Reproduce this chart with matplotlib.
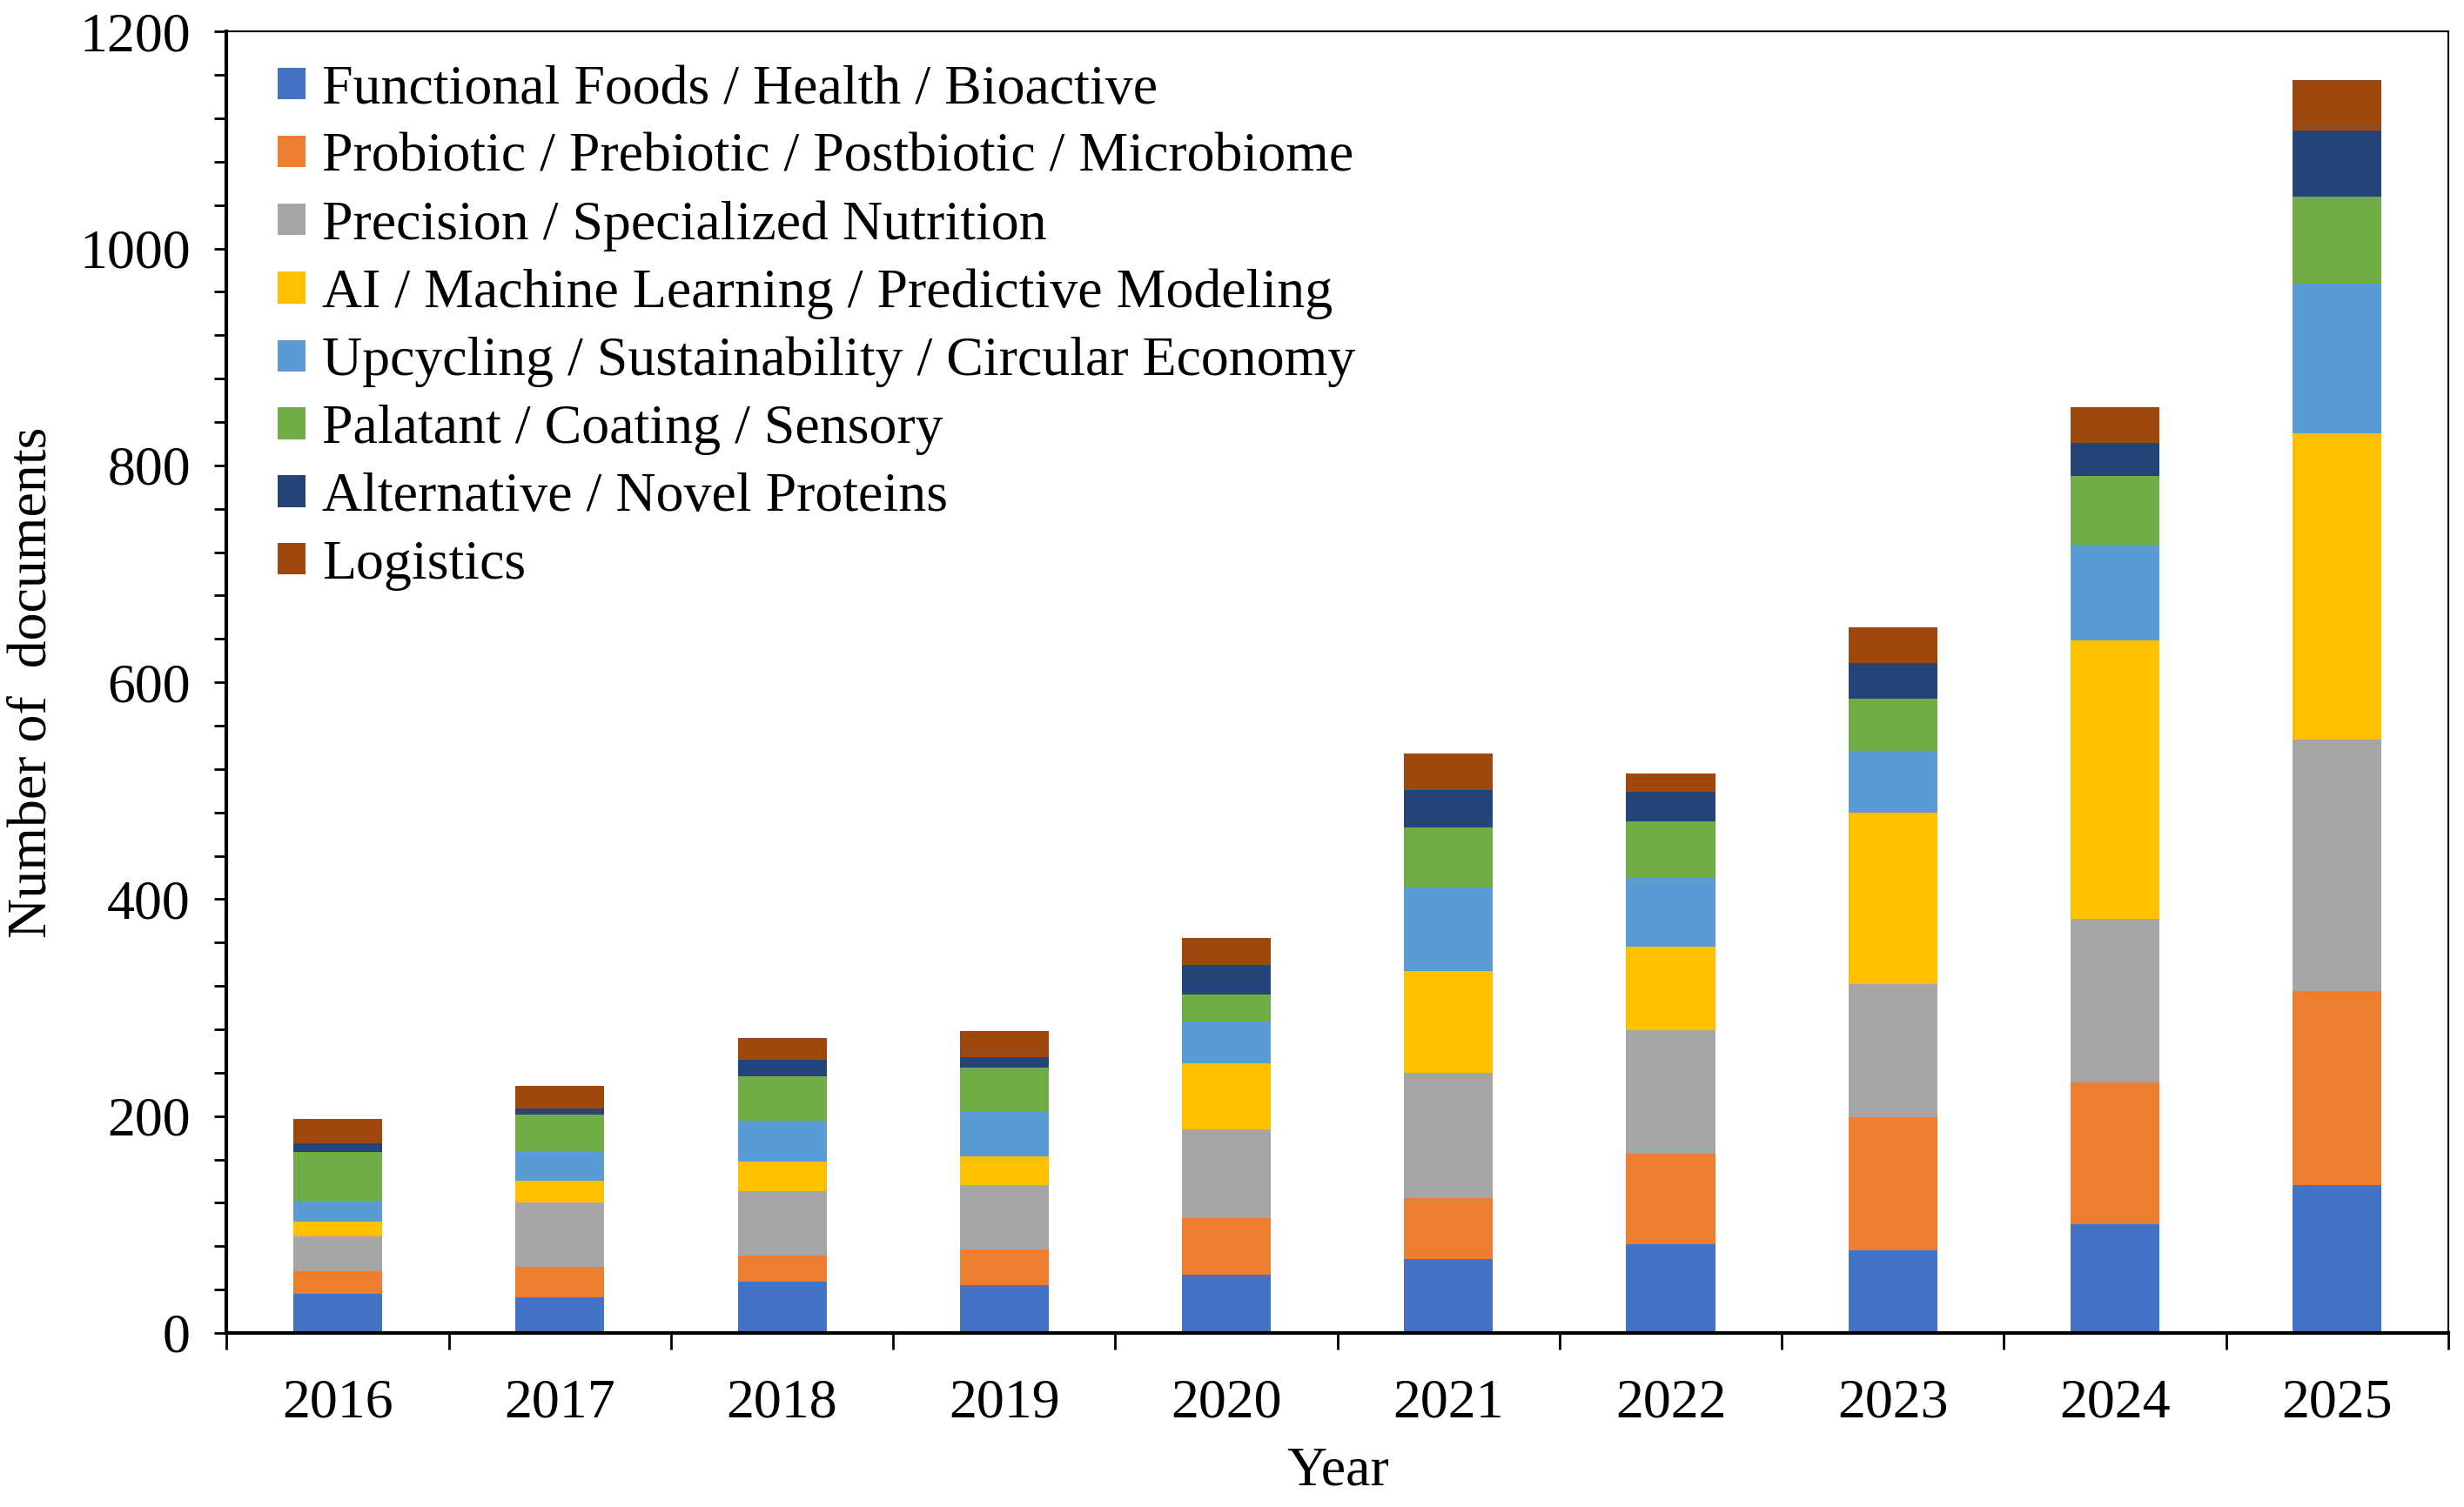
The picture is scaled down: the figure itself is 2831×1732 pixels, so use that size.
import matplotlib
matplotlib.use("Agg")
import matplotlib.pyplot as plt
import numpy as np

years = [2016, 2017, 2018, 2019, 2020, 2021, 2022, 2023, 2024, 2025]
categories = [
    "Functional Foods / Health / Bioactive",
    "Probiotic / Prebiotic / Postbiotic / Microbiome",
    "Precision / Specialized Nutrition",
    "AI / Machine Learning / Predictive Modeling",
    "Upcycling / Sustainability / Circular Economy",
    "Palatant / Coating / Sensory",
    "Alternative / Novel Proteins",
    "Logistics",
]
functional = [36, 33, 47, 44, 54, 68, 82, 76, 100, 136]
probiotic = [21, 28, 24, 33, 52, 56, 83, 123, 131, 179]
precision = [32, 59, 60, 59, 82, 116, 114, 123, 151, 232]
ai_ml = [14, 20, 27, 27, 61, 94, 77, 158, 257, 283]
upcycling = [19, 27, 38, 41, 38, 77, 64, 57, 88, 138]
palatant = [45, 34, 41, 41, 25, 55, 52, 48, 63, 80]
proteins = [8, 6, 15, 9, 27, 35, 27, 33, 31, 61]
logistics = [22, 21, 20, 24, 25, 33, 17, 33, 33, 46]
series = [functional, probiotic, precision, ai_ml, upcycling, palatant, proteins, logistics]
colors = ["#4472C4", "#ED7D31", "#A5A5A5", "#FFC000", "#5B9BD5", "#70AD47", "#264478", "#9E480E"]

plt.rcParams['font.family'] = ['Liberation Serif', 'DejaVu Serif']
fs = 46

fig = plt.figure(figsize=(28.31, 17.32), dpi=100)
ax = fig.add_axes([0.092, 0.1155, 0.9016, 0.8635])

x = np.arange(len(years))
bottom = np.zeros(len(years))
for vals, lab, col in zip(series, categories, colors):
    ax.bar(x, vals, 0.4, bottom=bottom, color=col, label=lab, zorder=2)
    bottom += np.array(vals)

ax.set_xlim(-0.5, len(years) - 0.5)
ax.set_ylim(0, 1200)
ax.set_yticks(np.arange(0, 1201, 200))
ax.set_yticks(np.arange(0, 1201, 40), minor=True)
ax.set_xticks(x)
ax.set_xticklabels([str(y) for y in years])
ax.set_xticks(np.arange(-0.5, len(years), 1), minor=True)
ax.tick_params(axis='x', which='major', length=0, pad=38, labelsize=fs)
ax.tick_params(axis='x', which='minor', length=14, width=2, direction='out')
ax.tick_params(axis='y', which='major', length=10, width=2, pad=20, labelsize=fs)
ax.tick_params(axis='y', which='minor', length=10, width=2)

for s in ax.spines.values():
    s.set_linewidth(1.5)
ax.spines['left'].set_linewidth(3)
ax.spines['bottom'].set_linewidth(3)

ax.set_xlabel("Year", fontsize=fs, labelpad=14)
ax.set_ylabel("Number of  documents", fontsize=fs, labelpad=18)

ax.legend(loc='upper left', fontsize=fs, frameon=False, handlelength=0.5, handleheight=0.5,
          handletextpad=0.3, labelspacing=0.31, borderaxespad=0.2, bbox_to_anchor=(0.008, 1.0))

fig.savefig("out.png", dpi=100)
